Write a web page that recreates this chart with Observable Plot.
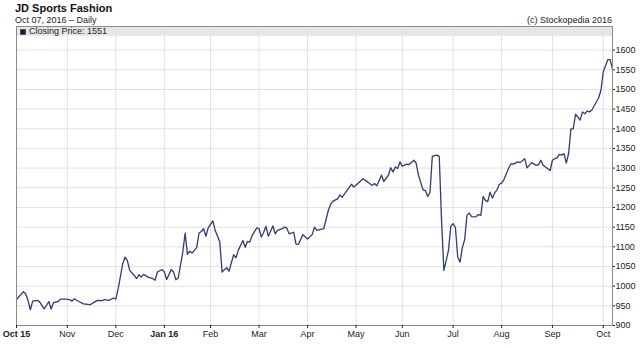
<!DOCTYPE html>
<html><head><meta charset="utf-8">
<script src="https://cdn.jsdelivr.net/npm/d3@7"></script>
<script src="https://cdn.jsdelivr.net/npm/@observablehq/plot@0.6"></script>
<style>
body{margin:0;background:#fff;}
#wrap{position:relative;width:640px;height:348px;overflow:hidden;background:#fff;}
#plot{position:absolute;left:0;top:25px;}
#over{position:absolute;left:0;top:0;pointer-events:none;}
</style></head><body><div id="wrap"><div id="plot"></div></div>
<script>
// Trading-day index (0 = 1 Oct 2015) and closing price (pence)
const closing = [
[0,966],[3,986],[4,980],[5,963],[6,940],[7,962],[9,964],[10,960],[12,942],[14,961],[15,942],[16,958],[18,961],[19,967],[21,967],[23,966],[24,962],[25,968],[27,961],[29,955],[32,953],[33,957],[35,964],[37,963],[38,966],[40,964],[42,970],[43,967],
[44,993],[46,1057],[47,1074],[48,1065],[49,1040],[51,1027],[52,1019],[53,1029],[54,1023],[55,1030],[57,1023],[59,1019],[60,1015],[61,1036],[63,1042],[64,1036],[65,1017],[67,1042],[68,1036],[69,1016],[70,1021],[72,1087],[73,1135],[74,1081],[75,1089],[76,1084],[78,1098],[79,1135],[80,1139],[81,1146],[82,1127],[83,1148],[85,1166],[86,1142],[88,1112],
[89,1036],[90,1042],[91,1047],[92,1038],[94,1080],[95,1072],[96,1091],[98,1116],[99,1099],[100,1114],[101,1112],[102,1129],[104,1148],[105,1146],[106,1125],[107,1137],[108,1152],[109,1127],[111,1153],[112,1133],[113,1142],[115,1146],[116,1150],[117,1148],[118,1133],[120,1137],[121,1107],[122,1106],[124,1131],[126,1120],[128,1131],[129,1150],[130,1142],[133,1146],
[135,1193],[136,1208],[137,1216],[139,1222],[140,1232],[141,1226],[143,1243],[145,1259],[146,1252],[148,1262],[150,1273],[152,1265],[154,1256],[155,1261],[156,1255],[158,1282],[159,1266],[161,1282],[162,1301],[163,1290],[164,1303],[165,1299],[166,1316],[167,1305],[169,1310],[170,1309],[172,1320],[173,1313],[174,1282],[176,1245],[177,1243],[178,1228],[179,1239],
[180,1330],[181,1332],[182,1333],[183,1330],[184,1167],[185,1040],[186,1065],[187,1091],[188,1152],[189,1159],[190,1149],[191,1074],[192,1061],[193,1098],[194,1118],[195,1180],[196,1186],[197,1177],[198,1176],[199,1177],[200,1182],[201,1180],[202,1228],[203,1218],[204,1215],[205,1239],[206,1224],[207,1237],[208,1245],[209,1259],[210,1262],[211,1271],
[213,1299],[214,1311],[215,1310],[217,1316],[218,1314],[220,1324],[221,1301],[222,1307],[223,1314],[225,1307],[226,1309],[227,1320],[228,1307],[229,1303],[231,1294],[232,1320],[233,1324],[234,1326],[235,1335],[236,1333],[237,1337],[238,1313],[239,1337],[240,1400],[241,1400],[242,1437],[243,1430],[244,1422],[245,1443],[246,1438],[247,1445],[248,1443],[249,1447],
[251,1468],[252,1479],[253,1498],[254,1545],[256,1576],[257,1576],[258,1551]
];
const monthIdx    = [0, 22, 43, 64, 84, 105, 126, 147, 167, 189, 210, 232, 254];
const monthLabels = ["Oct 15","Nov","Dec","Jan 16","Feb","Mar","Apr","May","Jun","Jul","Aug","Sep","Oct"];
const boldLabels  = ["Oct 15","Jan 16"];
const yTicks = [900,950,1000,1050,1100,1150,1200,1250,1300,1350,1400,1450,1500,1550,1600];
const titleText = "JD Sports Fashion";
const subtitleText = "Oct 07, 2016 \u2013 Daily";
const creditText = "(c) Stockopedia 2016";
const legendText = "Closing Price: 1551";

const FONT = '"Liberation Sans", Arial, Helvetica, sans-serif';
const LINE = "#303b72";
const labelOf = i => monthLabels[monthIdx.indexOf(i)];
const normalTicks = monthIdx.filter(i => !boldLabels.includes(labelOf(i)));
const boldTicks = monthIdx.filter(i => boldLabels.includes(labelOf(i)));

const chart = Plot.plot({
  width: 640, height: 323,
  marginTop: 1, marginBottom: 23, marginLeft: 16, marginRight: 28,
  style: {fontFamily: FONT, fontSize: "9px", color: "#222", background: "#fff", overflow: "visible"},
  x: {domain: [0, 258]},
  y: {domain: [900, 1660]},
  marks: [
    Plot.rect([{a: 0, b: 258, c: 1635, d: 1660}], {x1: "a", x2: "b", y1: "c", y2: "d", fill: "#e6e6e6"}),
    Plot.ruleY(yTicks.filter(v => v > 900), {stroke: "#e2e2e2", strokeWidth: 1}),
    Plot.ruleX(monthIdx.slice(1), {stroke: "#e2e2e2", strokeWidth: 1}),
    Plot.line(closing, {x: d => d[0], y: d => d[1], stroke: LINE, strokeWidth: 1.3}),
    Plot.frame({stroke: "#8a8a8a"}),
    Plot.axisY(yTicks, {anchor: "right", tickSize: 2, tickPadding: 1, tickFormat: v => String(v), label: null}),
    Plot.axisX(normalTicks, {anchor: "bottom", tickSize: 3, tickPadding: 2, tickFormat: labelOf, label: null}),
    Plot.axisX(boldTicks, {anchor: "bottom", tickSize: 3, tickPadding: 2, tickFormat: labelOf, label: null, fontWeight: "bold"})
  ]
});
document.getElementById("plot").appendChild(chart);

const over = d3.select("#wrap").append("svg").attr("id", "over")
  .attr("width", 640).attr("height", 348).style("font-family", FONT);
over.append("text").attr("x", 15).attr("y", 11.7).attr("font-size", 11).attr("font-weight", "bold").attr("fill", "#111").text(titleText);
over.append("text").attr("x", 15).attr("y", 23.3).attr("font-size", 9).attr("fill", "#222").text(subtitleText);
over.append("text").attr("x", 612).attr("y", 23.3).attr("font-size", 9).attr("text-anchor", "end").attr("fill", "#222").text(creditText);
over.append("rect").attr("x", 20.5).attr("y", 29.5).attr("width", 5).attr("height", 5).attr("fill", "#141a4a").attr("stroke", "#333").attr("stroke-width", 0.6);
over.append("text").attr("x", 29).attr("y", 34.3).attr("font-size", 9).attr("fill", "#222").text(legendText);
</script></body></html>
